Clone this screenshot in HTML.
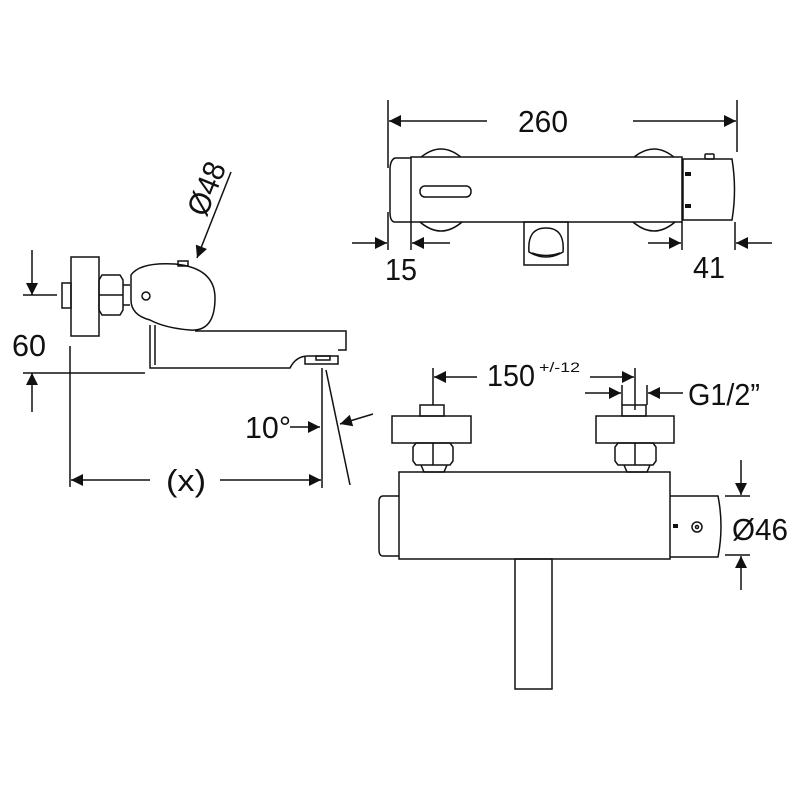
<!DOCTYPE html>
<html><head><meta charset="utf-8"><style>
html,body{margin:0;padding:0;background:#fff;}
svg{display:block;}
text{font-family:"Liberation Sans",sans-serif;fill:#111;}
</style></head><body>
<svg width="800" height="800" viewBox="0 0 800 800" xmlns="http://www.w3.org/2000/svg">
<defs>
<marker id="a" viewBox="0 0 10 10" refX="10" refY="5" markerWidth="17" markerHeight="12" markerUnits="userSpaceOnUse" orient="auto"><path d="M0,0 L10,5 L0,10 z" fill="#111"/></marker>
</defs>
<g fill="none" stroke="#111" stroke-width="1.5">
<rect x="62" y="283" width="9" height="25"/>
<rect x="71" y="257" width="28" height="79"/>
<path d="M102,275 h18 l3,5 v30 l-3,5 h-18 l-3,-5 v-30 z"/>
<line x1="99" y1="295" x2="123" y2="295"/>
<line x1="123" y1="285" x2="130" y2="285"/><line x1="123" y1="305" x2="130" y2="305"/>
<path d="M131,275 Q140,262 175,264 Q215,268 215,298 Q215,332 190,330 Q165,328 150,320 Q131,315 131,300 z"/>
<rect x="178" y="261" width="10" height="5"/>
<circle cx="146" cy="296" r="4"/>
<path d="M195,331 H346 V350 H338"/>
<path d="M150,325 V368 H290 Q296,356 308,356 H338 V364 H305 V356"/>
<line x1="155" y1="325" x2="155" y2="365"/>
<rect x="316" y="356" width="14" height="4"/>
<line x1="32" y1="250" x2="32" y2="295" marker-end="url(#a)"/>
<line x1="23" y1="295" x2="57" y2="295"/>
<line x1="23" y1="373" x2="145" y2="373"/>
<line x1="32" y1="412" x2="32" y2="373" marker-end="url(#a)"/>
<line x1="70" y1="346" x2="70" y2="487"/>
<line x1="322" y1="368" x2="322" y2="488"/>
<line x1="150" y1="480" x2="71" y2="480" marker-end="url(#a)"/>
<line x1="220" y1="480" x2="321" y2="480" marker-end="url(#a)"/>
<line x1="326" y1="370" x2="350" y2="485"/>
<line x1="290" y1="427" x2="320" y2="427" marker-end="url(#a)"/>
<line x1="373" y1="414" x2="340" y2="424" marker-end="url(#a)"/>
<line x1="231" y1="172" x2="197" y2="258" marker-end="url(#a)"/>
<path d="M420,158 Q441,140 462,158"/><path d="M633,158 Q654,140 675,158"/>
<path d="M420,222 Q441,240 462,222"/><path d="M633,222 Q654,240 675,222"/>
<path d="M411,158 H395 Q390,160 390,170 V212 Q390,222 395,222 H411"/>
<rect x="411" y="157" width="271" height="65" fill="#fff"/>
<rect x="420" y="186" width="51" height="11" rx="5"/>
<path d="M683,159 H732 Q737,190 732,220 H683 z"/>
<rect x="705" y="154" width="9" height="5" rx="1"/>
<rect x="524" y="222" width="44" height="43"/>
<path d="M529,252 Q527,228 546,228 Q565,228 563,252 Q546,262 529,252 z"/>
<path d="M532,253 Q546,258 560,253"/>
<line x1="388" y1="100" x2="388" y2="168"/><line x1="737" y1="100" x2="737" y2="152"/>
<line x1="487" y1="121" x2="389" y2="121" marker-end="url(#a)"/>
<line x1="633" y1="121" x2="736" y2="121" marker-end="url(#a)"/>
<line x1="388" y1="212" x2="388" y2="250"/><line x1="411" y1="222" x2="411" y2="250"/>
<line x1="352" y1="243" x2="387" y2="243" marker-end="url(#a)"/>
<line x1="450" y1="243" x2="412" y2="243" marker-end="url(#a)"/>
<line x1="682" y1="222" x2="682" y2="250"/><line x1="735" y1="222" x2="735" y2="250"/>
<line x1="648" y1="243" x2="681" y2="243" marker-end="url(#a)"/>
<line x1="772" y1="243" x2="736" y2="243" marker-end="url(#a)"/>
<rect x="420" y="405" width="24" height="11"/><rect x="622" y="405" width="24" height="11"/>
<rect x="392" y="416" width="79" height="27"/><rect x="596" y="416" width="78" height="27"/>
<path d="M416,443 h34 l3,4 v14 l-3,4 h-34 l-3,-4 v-14 z"/><line x1="433" y1="443" x2="433" y2="465"/>
<path d="M618,443 h35 l3,4 v14 l-3,4 h-35 l-3,-4 v-14 z"/><line x1="635" y1="443" x2="635" y2="465"/>
<path d="M421,465 l3,7 h20 l3,-7"/><path d="M624,465 l3,7 h20 l3,-7"/>
<path d="M399,496 H383 Q379,496 379,502 V550 Q379,556 383,556 H399"/>
<rect x="399" y="472" width="271" height="87"/>
<path d="M670,496 H718 Q724,526 718,557 H670"/>
<circle cx="697" cy="527" r="5"/><circle cx="697" cy="527" r="1.5"/>
<rect x="515" y="559" width="37" height="130"/>
<line x1="433" y1="368" x2="433" y2="405"/><line x1="635" y1="368" x2="635" y2="410"/>
<line x1="477" y1="377" x2="434" y2="377" marker-end="url(#a)"/>
<line x1="590" y1="377" x2="634" y2="377" marker-end="url(#a)"/>
<line x1="622" y1="385" x2="622" y2="405"/><line x1="647" y1="385" x2="647" y2="405"/>
<line x1="585" y1="393" x2="621" y2="393" marker-end="url(#a)"/>
<line x1="683" y1="393" x2="648" y2="393" marker-end="url(#a)"/>
<line x1="725" y1="496" x2="750" y2="496"/><line x1="725" y1="555" x2="750" y2="555"/>
<line x1="741" y1="460" x2="741" y2="495" marker-end="url(#a)"/>
<line x1="741" y1="590" x2="741" y2="556" marker-end="url(#a)"/>
</g>
<g fill="#111">
<rect x="685" y="172" width="6" height="4"/><rect x="685" y="204" width="6" height="4"/>
<rect x="673" y="524" width="5" height="4"/>
</g>
<g font-size="31">
<text x="12" y="356" textLength="34" lengthAdjust="spacingAndGlyphs">60</text>
<text x="166" y="491" textLength="40" lengthAdjust="spacingAndGlyphs">(x)</text>
<text x="245" y="438" textLength="46" lengthAdjust="spacingAndGlyphs">10°</text>
<text x="518" y="132" textLength="50" lengthAdjust="spacingAndGlyphs">260</text>
<text x="385" y="280" textLength="32" lengthAdjust="spacingAndGlyphs">15</text>
<text x="693" y="278" textLength="32" lengthAdjust="spacingAndGlyphs">41</text>
<text x="487" y="386" textLength="48" lengthAdjust="spacingAndGlyphs">150</text>
<text x="688" y="405" textLength="72" lengthAdjust="spacingAndGlyphs">G1/2”</text>
<text x="732" y="540" textLength="56" lengthAdjust="spacingAndGlyphs">Ø46</text>
<text transform="translate(206,218) rotate(-68)" textLength="55" lengthAdjust="spacingAndGlyphs">Ø48</text>
</g>
<text x="539" y="372" font-size="14" textLength="41" lengthAdjust="spacingAndGlyphs">+/-12</text>
</svg>
</body></html>
